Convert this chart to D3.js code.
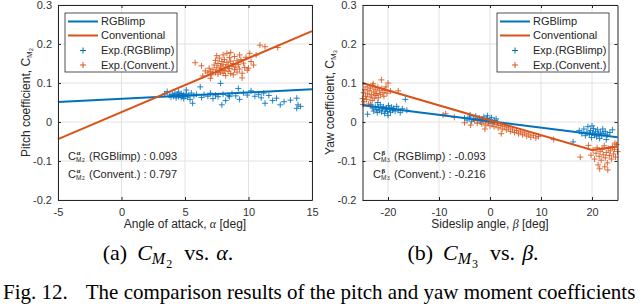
<!DOCTYPE html>
<html>
<head>
<meta charset="utf-8">
<script src="https://cdn.jsdelivr.net/npm/d3@7"></script>
<style>
body{margin:0;background:#fff}
text{font-family:"Liberation Sans",Arial,sans-serif}
</style>
</head>
<body>
<div id="fig"></div>
<script>
// ---------------- data, panel (a): pitch vs angle of attack ----------------
const alphaTicks = [-5, 0, 5, 10, 15]
const cmTicks = [-0.2, -0.1, 0, 0.1, 0.2, 0.3]
const alphaFitX = [-5, 15]
const rgbAlphaFitY = [0.051, 0.084]
const convAlphaFitY = [-0.044, 0.233]
const rgbAlphaExp = [[3.4,0.072],[3.6,0.078],[3.8,0.069],[3.9,0.064],[4.0,0.071],[4.1,0.066],[4.2,0.074],[4.3,0.068],[4.3,0.062],[4.4,0.071],[4.5,0.065],[4.5,0.077],[4.6,0.069],[4.7,0.063],[4.7,0.073],[4.8,0.067],[4.9,0.060],[4.9,0.070],[5.0,0.066],[5.1,0.082],[5.1,0.072],[5.2,0.064],[5.3,0.069],[5.4,0.058],[5.5,0.074],[5.6,0.048],[5.7,0.067],[5.9,0.071],[6.2,0.090],[6.3,0.063],[6.5,0.070],[6.8,0.066],[7.0,0.074],[7.2,0.060],[7.4,0.069],[7.6,0.065],[7.8,0.099],[7.9,0.044],[8.0,0.071],[8.2,0.055],[8.4,0.068],[8.5,0.065],[8.7,0.073],[9.0,0.067],[9.2,0.086],[9.3,0.058],[9.6,0.075],[9.9,0.069],[10.2,0.080],[10.5,0.066],[10.8,0.071],[11.0,0.062],[11.2,0.074],[11.3,0.048],[11.6,0.068],[11.9,0.055],[12.2,0.061],[12.5,0.044],[12.8,0.052],[13.3,0.056],[13.8,0.061],[13.8,0.035],[13.9,0.044],[14.1,0.040]]
const convAlphaExp = [[5.8,0.152],[6.3,0.144],[6.4,0.118],[6.6,0.131],[6.8,0.126],[6.9,0.138],[7.0,0.129],[7.0,0.112],[7.1,0.121],[7.2,0.134],[7.3,0.146],[7.4,0.127],[7.4,0.158],[7.5,0.139],[7.5,0.170],[7.6,0.123],[7.6,0.150],[7.7,0.133],[7.7,0.164],[7.8,0.128],[7.8,0.144],[7.9,0.137],[7.9,0.155],[8.0,0.125],[8.0,0.148],[8.0,0.172],[8.1,0.132],[8.1,0.160],[8.2,0.141],[8.2,0.119],[8.3,0.176],[8.3,0.153],[8.4,0.130],[8.4,0.146],[8.5,0.137],[8.5,0.165],[8.6,0.124],[8.6,0.156],[8.6,0.178],[8.7,0.143],[8.8,0.121],[8.8,0.150],[8.9,0.134],[8.9,0.168],[9.0,0.141],[9.1,0.128],[9.1,0.157],[9.2,0.147],[9.3,0.172],[9.3,0.136],[9.4,0.160],[9.5,0.125],[9.5,0.113],[9.6,0.151],[9.7,0.140],[9.8,0.166],[9.9,0.133],[10.0,0.138],[10.1,0.176],[10.2,0.155],[10.4,0.146],[10.6,0.172],[10.9,0.197],[11.3,0.193],[12.3,0.191]]

// ---------------- data, panel (b): yaw vs sideslip angle ----------------
const betaTicks = [-20, -10, 0, 10, 20]
const betaFitX = [-25, 25]
const rgbBetaFitY = [0.043, -0.039]
const convBetaFitX = [-25, 20, 25]
const convBetaFitY = [0.100, -0.072, -0.063]
const rgbBetaExp = [[-24.0,0.020],[-23.4,0.045],[-23.0,0.036],[-22.8,0.028],[-22.5,0.040],[-22.3,0.032],[-22.1,0.024],[-22.0,0.050],[-21.9,0.037],[-21.7,0.030],[-21.5,0.044],[-21.3,0.026],[-21.1,0.034],[-20.9,0.039],[-20.7,0.022],[-20.5,0.031],[-20.3,0.036],[-20.1,0.027],[-20.0,0.017],[-19.9,0.042],[-19.7,0.033],[-19.5,0.025],[-19.3,0.038],[-19.1,0.030],[-18.9,0.035],[-18.6,0.028],[-18.3,0.040],[-18.0,0.032],[-17.6,0.024],[-17.2,0.034],[-16.6,0.058],[-16.3,0.030],
  [-5.0,0.010],[-4.5,0.005],[-4.0,0.013],[-3.9,0.018],[-3.6,0.002],[-3.2,0.008],[-2.8,0.015],[-2.5,0.004],[-2.1,0.010],[-1.8,0.000],[-1.5,0.007],[-1.2,0.013],[-0.9,0.003],[-0.6,0.009],[-0.5,0.016],[-0.3,0.001],[0.0,0.006],[0.3,0.011],[0.6,-0.002],[0.9,0.004],[1.2,0.008],[1.5,-0.001],
  [16.3,-0.051],[17.5,-0.022],[18.0,-0.030],[18.4,-0.018],[18.7,-0.035],[19.0,-0.026],[19.2,-0.012],[19.5,-0.031],[19.7,-0.022],[19.9,-0.040],[20.0,-0.010],[20.1,-0.028],[20.3,-0.017],[20.5,-0.034],[20.7,-0.025],[20.9,-0.038],[21.1,-0.020],[21.3,-0.030],[21.5,-0.042],[21.7,-0.026],[21.9,-0.035],[22.1,-0.018],[22.3,-0.030],[22.6,-0.024],[22.8,-0.045],[23.0,-0.033],[23.5,-0.027],[24.0,-0.020]]
const convBetaExp = [[-25.0,0.060],[-24.9,0.045],[-24.8,0.075],[-24.7,0.052],[-24.5,0.083],[-24.4,0.066],[-24.2,0.058],[-24.1,0.090],[-24.0,0.072],[-23.8,0.046],[-23.7,0.080],[-23.5,0.064],[-23.4,0.087],[-23.3,0.040],[-23.2,0.070],[-23.1,0.055],[-23.0,0.094],[-22.9,0.098],[-22.8,0.077],[-22.7,0.061],[-22.5,0.084],[-22.4,0.068],[-22.2,0.073],[-22.0,0.089],[-21.9,0.062],[-21.7,0.080],[-21.5,0.070],[-21.3,0.108],[-21.2,0.086],[-21.0,0.075],[-20.8,0.066],[-20.6,0.082],[-20.4,0.090],[-20.2,0.074],[-20.0,0.100],[-19.5,0.079],[-18.0,0.080],
  [-9.2,0.018],[-8.7,0.021],[-7.0,0.012],[-5.0,-0.002],[-3.8,-0.008],[-3.0,0.004],[-2.5,-0.003],[-2.0,0.006],[-1.6,-0.005],[-1.2,0.002],[-1.0,-0.018],[-0.8,-0.008],[-0.4,-0.002],[0.0,-0.010],[0.4,-0.004],[0.8,-0.012],[1.2,-0.006],[1.6,-0.015],[2.0,-0.009],[2.2,-0.030],[2.4,-0.018],[2.8,-0.012],[3.2,-0.020],[3.6,-0.015],[4.0,-0.024],[4.4,-0.018],[4.8,-0.027],[5.2,-0.022],[5.6,-0.030],[6.0,-0.025],[6.4,-0.033],[6.8,-0.028],[7.2,-0.036],[7.6,-0.031],[8.0,-0.039],[8.5,-0.034],[9.0,-0.041],[9.5,-0.037],[12.5,-0.045],
  [17.7,-0.090],[19.3,-0.060],[19.8,-0.085],[20.2,-0.072],[20.5,-0.095],[20.8,-0.080],[21.0,-0.066],[21.2,-0.110],[21.4,-0.088],[21.5,-0.120],[21.6,-0.075],[21.8,-0.098],[22.0,-0.070],[22.2,-0.084],[22.4,-0.061],[22.5,-0.115],[22.6,-0.092],[22.8,-0.078],[23.0,-0.105],[23.1,-0.123],[23.2,-0.068],[23.4,-0.086],[23.6,-0.074],[23.8,-0.095],[24.0,-0.063],[24.2,-0.082],[24.4,-0.070],[24.5,-0.054],[24.6,-0.090],[24.8,-0.058],[25.0,-0.076]]

const legendNames = ['RGBlimp', 'Conventional', 'Exp.(RGBlimp)', 'Exp.(Convent.)']

const blue = '#0072BD', orange = '#D95319', axisCol = '#262626'
const plotTop = 5, plotBottom = 200

const svg = d3.select('#fig').append('svg').attr('width', 640).attr('height', 305)

function plus(g, pts, x, y, col) {
  g.selectAll(null).data(pts).join('path')
    .attr('d', d => `M${x(d[0])-3},${y(d[1])}h6M${x(d[0])},${y(d[1])-3}v6`)
    .attr('stroke', col).attr('stroke-width', 1).attr('stroke-opacity', 0.85).attr('fill', 'none')
}

function panel(p) {
  const x = d3.scaleLinear().domain(p.xDomain).range([p.left, p.right])
  const y = d3.scaleLinear().domain([-0.2, 0.3]).range([plotBottom, plotTop])
  const g = svg.append('g')

  // grid
  g.selectAll(null).data(p.xTicks).join('line')
    .attr('x1', d => x(d)).attr('x2', d => x(d)).attr('y1', plotTop).attr('y2', plotBottom)
    .attr('stroke', '#e2e2e2')
  g.selectAll(null).data(cmTicks).join('line')
    .attr('x1', p.left).attr('x2', p.right).attr('y1', d => y(d)).attr('y2', d => y(d))
    .attr('stroke', '#e2e2e2')

  // experiment points first, fit lines over them
  plus(g, p.rgbExp, x, y, blue)
  plus(g, p.convExp, x, y, orange)
  const line = d3.line().x(d => x(d[0])).y(d => y(d[1]))
  g.append('path').datum(d3.zip(p.rgbFitX, p.rgbFitY)).attr('d', line)
    .attr('stroke', blue).attr('stroke-width', 2).attr('fill', 'none')
  g.append('path').datum(d3.zip(p.convFitX, p.convFitY)).attr('d', line)
    .attr('stroke', orange).attr('stroke-width', 2).attr('fill', 'none')

  // box axes, ticks inside
  const fmt = d => String(d)
  const axes = [
    [d3.axisBottom(x).tickValues(p.xTicks).tickFormat(fmt).tickPadding(8), `translate(0,${plotBottom})`],
    [d3.axisTop(x).tickValues(p.xTicks).tickFormat(''), `translate(0,${plotTop})`],
    [d3.axisLeft(y).tickValues(cmTicks).tickFormat(fmt).tickPadding(6), `translate(${p.left},0)`],
    [d3.axisRight(y).tickValues(cmTicks).tickFormat(''), `translate(${p.right},0)`]
  ]
  axes.forEach(a => {
    const ax = g.append('g').attr('transform', a[1])
      .call(a[0].tickSizeInner(-3).tickSizeOuter(0))
    ax.select('.domain').attr('stroke', axisCol)
    ax.selectAll('line').attr('stroke', axisCol)
    ax.selectAll('text').attr('fill', '#333').style('font-size', '11px')
      .style('font-family', '"Liberation Sans",Arial,sans-serif')
  })

  // axis labels
  const xl = g.append('text').attr('x', (p.left + p.right) / 2).attr('y', 228)
    .attr('text-anchor', 'middle').attr('fill', axisCol).style('font-size', '12px')
  xl.append('tspan').text(p.xLabel)
  xl.append('tspan').style('font-family', '"Liberation Serif",serif').style('font-style', 'italic').text(p.xSym)
  xl.append('tspan').text(' [deg]')

  const yl = g.append('text').attr('transform', `translate(${p.yLabelX},${(plotTop + plotBottom) / 2}) rotate(-90)`)
    .attr('text-anchor', 'middle').attr('fill', axisCol).style('font-size', '12px')
  yl.append('tspan').text(p.yLabel + ', C')
  yl.append('tspan').attr('dy', 2).style('font-size', '8px').text('M')
  yl.append('tspan').attr('dy', 1).style('font-size', '6px').text(p.ySub)

  // legend
  const lg = g.append('g').attr('transform', `translate(${p.legX},13)`)
  lg.append('rect').attr('width', 112).attr('height', 59).attr('fill', '#fff')
    .attr('stroke', axisCol).attr('stroke-width', 0.8)
  const rows = [8.5, 22.5, 37.5, 52]
  legendNames.forEach((name, i) => {
    const col = i % 2 == 0 ? blue : orange
    if (i < 2) {
      lg.append('line').attr('x1', 3).attr('x2', 33).attr('y1', rows[i]).attr('y2', rows[i])
        .attr('stroke', col).attr('stroke-width', 2)
    } else {
      lg.append('path').attr('d', `M15,${rows[i]}h6M18,${rows[i]-3}v6`).attr('stroke', col)
    }
    lg.append('text').attr('x', 36).attr('y', rows[i]).attr('dy', '0.35em')
      .attr('fill', axisCol).style('font-size', '11px').text(name)
  })

  // slope annotations
  p.notes.forEach((n, i) => {
    const by = [160, 178][i], ax = p.noteX
    const t = g.append('g').attr('fill', axisCol)
    t.append('text').attr('x', ax).attr('y', by).style('font-size', '11px').text('C')
    t.append('text').attr('x', ax + 8.5).attr('y', by - 5).style('font-size', '7px')
      .style('font-weight', 'bold').style('font-family', '"Liberation Serif",serif').text(p.noteSym)
    t.append('text').attr('x', ax + 8).attr('y', by + 1.5).style('font-size', '6.5px').text('M')
    t.append('text').attr('x', ax + 14).attr('y', by + 2).style('font-size', '5px').text(p.ySub)
    t.append('text').attr('x', ax + 21).attr('y', by).style('font-size', '11px').text(n)
  })

  // sub caption
  const cap = svg.append('text').attr('x', p.capX).attr('y', 260).attr('text-anchor', 'middle')
    .style('font-family', '"Liberation Serif",serif').style('font-size', '22px').attr('fill', '#000')
  cap.append('tspan').text(p.capTag)
  cap.append('tspan').attr('dx', 10).style('font-style', 'italic').text('C')
  cap.append('tspan').attr('dy', 4).style('font-style', 'italic').style('font-size', '16px').text('M')
  cap.append('tspan').attr('dy', 4).attr('dx', 1).style('font-size', '12px').text(p.ySub)
  cap.append('tspan').attr('dy', -8).attr('dx', 12).text('vs.')
  cap.append('tspan').attr('dx', 7).style('font-style', 'italic').text(p.xSym)
  cap.append('tspan').text('.')
}

panel({
  xDomain: [-5, 15], left: 58, right: 312, xTicks: alphaTicks,
  rgbExp: rgbAlphaExp, convExp: convAlphaExp,
  rgbFitX: alphaFitX, rgbFitY: rgbAlphaFitY, convFitX: alphaFitX, convFitY: convAlphaFitY,
  xLabel: 'Angle of attack, ', xSym: 'α', yLabel: 'Pitch coefficient', ySub: '2', yLabelX: 30,
  legX: 65, noteX: 68, noteSym: 'α', notes: ['(RGBlimp) : 0.093', '(Convent.) : 0.797'],
  capX: 168, capTag: '(a)'
})
panel({
  xDomain: [-25, 25], left: 362.5, right: 617.5, xTicks: betaTicks,
  rgbExp: rgbBetaExp, convExp: convBetaExp,
  rgbFitX: betaFitX, rgbFitY: rgbBetaFitY, convFitX: convBetaFitX, convFitY: convBetaFitY,
  xLabel: 'Sideslip angle, ', xSym: 'β', yLabel: 'Yaw coefficient', ySub: '3', yLabelX: 334,
  legX: 497, noteX: 373, noteSym: 'β', notes: ['(RGBlimp) : -0.093', '(Convent.) : -0.216'],
  capX: 473, capTag: '(b)'
})

// figure caption, cut by the bottom edge like the source
const fc = svg.append('text').attr('x', 3).attr('y', 299)
  .style('font-family', '"Liberation Serif",serif').style('font-size', '21px').attr('fill', '#000')
fc.append('tspan').text('Fig. 12.')
fc.append('tspan').attr('dx', 18).text('The comparison results of the pitch and yaw moment coefficients')
</script>
</body>
</html>
